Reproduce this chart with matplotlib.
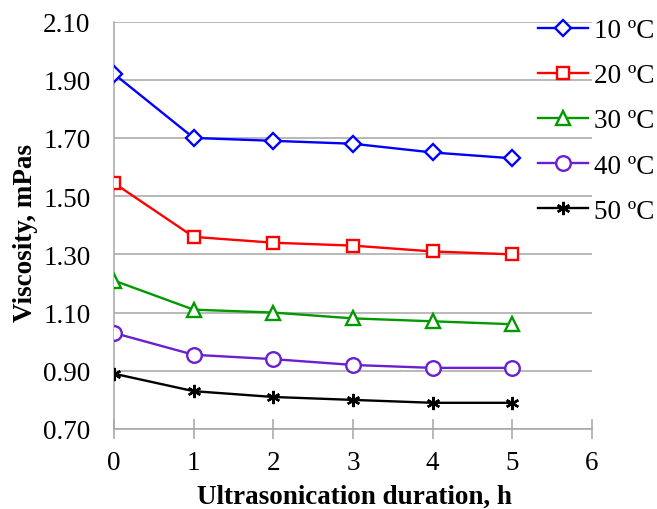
import matplotlib
matplotlib.use("Agg")
import matplotlib.pyplot as plt
from matplotlib.ticker import FixedLocator, FormatStrFormatter

# Viscosity of the fluid after ultrasonic treatment at different temperatures
hours = [0, 1, 2, 3, 4, 5]
visc_10 = [1.92, 1.70, 1.69, 1.68, 1.65, 1.63]
visc_20 = [1.545, 1.36, 1.34, 1.33, 1.31, 1.30]
visc_30 = [1.21, 1.11, 1.10, 1.08, 1.07, 1.06]
visc_40 = [1.03, 0.955, 0.94, 0.92, 0.91, 0.91]
visc_50 = [0.89, 0.83, 0.81, 0.80, 0.79, 0.79]
series_labels = ["10 ºC", "20 ºC", "30 ºC", "40 ºC", "50 ºC"]

plt.rcParams["font.family"] = ["Liberation Serif", "DejaVu Serif"]
FS = 19.5

fig = plt.figure(figsize=(6.57, 5.10), dpi=100)
ax = fig.add_axes([114 / 657, 80 / 510, 478 / 657, 407.5 / 510])

styles = [
    (visc_10, "#0000ff", "D", 8),
    (visc_20, "#ff0000", "s", 8.5),
    (visc_30, "#009a00", "^", 9.5),
    (visc_40, "#6a1fd0", "o", 10.5),
    (visc_50, "#000000", (6, 2, 0), 9.5),
]
for (vals, color, marker, ms), label in zip(styles, series_labels):
    ax.plot(hours, vals, color=color, lw=1.7, marker=marker, ms=ms,
            mfc="white" if marker != (6, 2, 0) else color, mec=color,
            mew=1.7, label=label, zorder=3)

ax.set_xlim(0, 6)
ax.set_ylim(0.70, 2.10)
ax.xaxis.set_major_locator(FixedLocator(range(0, 7)))
ax.yaxis.set_major_locator(FixedLocator([0.7 + 0.2 * i for i in range(8)]))
ax.yaxis.set_major_formatter(FormatStrFormatter("%.2f"))

ax.grid(axis="y", color="#a6a6a6", lw=1.1, zorder=0)
for side in ("top", "right"):
    ax.spines[side].set_visible(False)
for side in ("left", "bottom"):
    ax.spines[side].set_color("#a6a6a6")
    ax.spines[side].set_linewidth(1.1)

ax.tick_params(axis="x", direction="inout", length=14, width=1.1,
               color="#a6a6a6", labelsize=FS, pad=8)
ax.tick_params(axis="y", length=0, labelsize=FS, pad=17)

fig.text(354 / 657, 1 - 497 / 510, "Ultrasonication duration, h",
         fontsize=FS, fontweight="bold", ha="center", va="center")
fig.text(26 / 657, 1 - 233 / 510, "Viscosity, mPas", fontsize=FS,
         fontweight="bold", rotation=90, ha="center", va="center")

leg = ax.legend(loc="upper left", bbox_to_anchor=(538 / 657, 1 - 19 / 510),
                bbox_transform=fig.transFigure, frameon=False, fontsize=FS,
                handlelength=1.85, handletextpad=0.22, labelspacing=0.745,
                borderaxespad=0, borderpad=0)

fig.savefig("out.png", dpi=100)
